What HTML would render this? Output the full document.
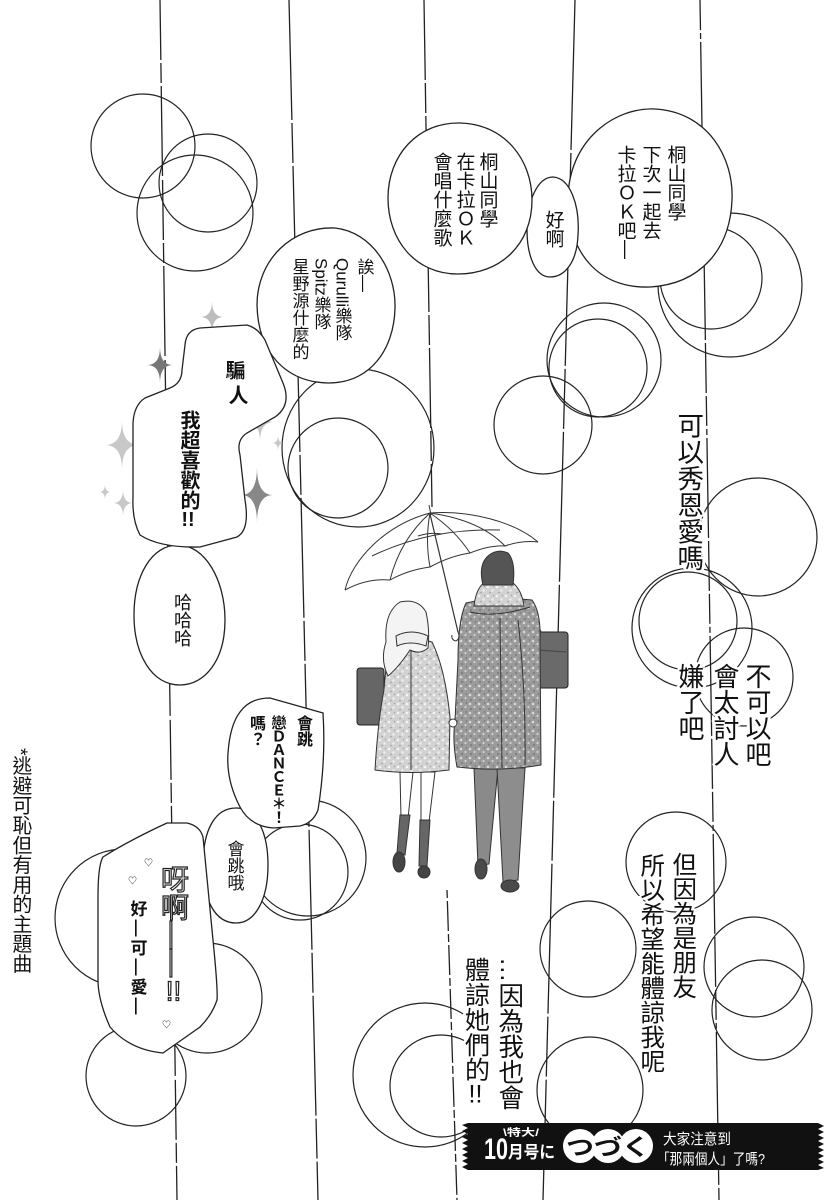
<!DOCTYPE html>
<html><head><meta charset="utf-8">
<style>
html,body{margin:0;padding:0;background:#fff;}
#pg{position:relative;width:836px;height:1200px;overflow:hidden;background:#fff;}
svg{position:absolute;left:0;top:0;}
.c{position:absolute;writing-mode:vertical-rl;line-height:1;white-space:nowrap;font-family:"Liberation Sans","Noto Sans CJK TC",sans-serif;color:#111;}
.b{font-weight:bold;}
.h{text-shadow:0 0 2px #fff,2px 0 0 #fff,-2px 0 0 #fff,0 2px 0 #fff,0 -2px 0 #fff,2px 2px 0 #fff,-2px -2px 0 #fff,2px -2px 0 #fff,-2px 2px 0 #fff,3px 0 0 #fff,-3px 0 0 #fff;}
.tc{text-combine-upright:all;}
</style></head><body><div id="pg">
<svg width="836" height="1200" viewBox="0 0 836 1200" xmlns="http://www.w3.org/2000/svg">
<defs>
<pattern id="p1" width="9" height="9" patternUnits="userSpaceOnUse">
<rect width="9" height="9" fill="#9b9b9b"/>
<circle cx="2" cy="2" r="1.3" fill="#d8d8d8"/>
<circle cx="6.5" cy="5" r="1.1" fill="#d0d0d0"/>
<circle cx="3" cy="7" r="0.9" fill="#6e6e6e"/>
<circle cx="7.5" cy="1" r="0.7" fill="#707070"/>
</pattern>
<pattern id="p2" width="9" height="9" patternUnits="userSpaceOnUse">
<rect width="9" height="9" fill="#d2d2d2"/>
<circle cx="2" cy="2" r="1.3" fill="#f4f4f4"/>
<circle cx="6.5" cy="5.5" r="1.2" fill="#f0f0f0"/>
<circle cx="4" cy="7.5" r="0.8" fill="#9a9a9a"/>
<circle cx="7.5" cy="1.5" r="0.7" fill="#a0a0a0"/>
</pattern>
<clipPath id="cl1"><rect x="0" y="900" width="467" height="300"/></clipPath>
</defs>

<!-- rain lines -->
<g stroke="#222" stroke-width="1.3" fill="none">
<line x1="160" y1="0" x2="177" y2="1200" stroke-dasharray="60 3 20 3 90 4"/>
<line x1="289" y1="0" x2="318" y2="1200" stroke-dasharray="120 3 40 3"/>
<line x1="424" y1="0" x2="432" y2="507" stroke-dasharray="80 3 30 3"/>
<line x1="447" y1="890" x2="457" y2="1200" stroke-dasharray="8 3 30 3"/>
<line x1="575" y1="0" x2="543" y2="1200" stroke-dasharray="150 3 60 3"/>
<line x1="700" y1="0" x2="719" y2="1200" stroke-dasharray="30 3 6 3 100 3 50 3"/>
</g>

<!-- circles -->
<g stroke="#222" stroke-width="1.2" fill="none">
<circle cx="143" cy="146" r="52"/>
<circle cx="208" cy="183" r="49"/>
<circle cx="195" cy="213" r="58"/>
<circle cx="730" cy="285" r="72"/>
<circle cx="711" cy="278" r="51"/>
<circle cx="604" cy="360" r="57"/>
<circle cx="598" cy="368" r="49"/>
<circle cx="543" cy="425" r="49"/>
<ellipse cx="358" cy="448" rx="76" ry="79"/>
<circle cx="338" cy="468" r="50"/>
<circle cx="758" cy="537" r="59"/>
<circle cx="692" cy="628" r="60"/>
<circle cx="688" cy="621" r="49"/>
<circle cx="744" cy="677" r="49"/>
<circle cx="676" cy="862" r="50"/>
<circle cx="588" cy="949" r="48"/>
<circle cx="590" cy="1090" r="53"/>
<circle cx="754" cy="967" r="50"/>
<circle cx="762" cy="1010" r="50"/>
<g clip-path="url(#cl1)">
<circle cx="425" cy="1075" r="72"/>
<circle cx="441" cy="1086" r="51"/>
</g>
<circle cx="124" cy="918" r="69"/>
<circle cx="207" cy="998" r="55"/>
<circle cx="136" cy="1076" r="50"/>
<circle cx="308" cy="858" r="58"/>
<circle cx="300" cy="872" r="48"/>
</g>

<!-- sparkles -->
<g>
<path d="M212,301 Q212,317 224,317 Q212,317 212,333 Q212,317 200,317 Q212,317 212,301Z" fill="#bdbdbd"/>
<path d="M160,347 Q160,365 173,365 Q160,365 160,383 Q160,365 147,365 Q160,365 160,347Z" fill="#777"/>
<path d="M122,420 Q122,445 139,445 Q122,445 122,470 Q122,445 105,445 Q122,445 122,420Z" fill="#c8c8c8"/>
<path d="M105,484 Q105,492 111,492 Q105,492 105,500 Q105,492 99,492 Q105,492 105,484Z" fill="#c8c8c8"/>
<path d="M123,489 Q123,503 133,503 Q123,503 123,517 Q123,503 113,503 Q123,503 123,489Z" fill="#c8c8c8"/>
<path d="M260,402 Q260,422 274,422 Q260,422 260,442 Q260,422 246,422 Q260,422 260,402Z" fill="#c8c8c8"/>
<path d="M278,435 Q278,443 284,443 Q278,443 278,451 Q278,443 272,443 Q278,443 278,435Z" fill="#c8c8c8"/>
<path d="M257,467 Q257,495 273,495 Q257,495 257,523 Q257,495 241,495 Q257,495 257,467Z" fill="#888"/>
</g>

<!-- bubbles -->
<g fill="#fff" stroke="#222" stroke-width="1.3">
<path d="M568,200 C568,140 615,107 655,109 C708,112 734,158 732,200 C730,250 700,284 650,287 C598,289 568,252 568,200Z"/>
<path d="M553,177 C570,178 580,205 578,235 C577,262 565,277 550,277 C535,277 527,255 527,230 C527,200 538,177 553,177Z"/>
<path d="M460,123 C505,124 532,160 532,200 C532,245 500,274 458,274 C415,274 388,240 388,198 C388,155 418,122 460,123Z"/>
<path d="M335,228 C372,232 396,270 395,308 C394,350 370,383 328,383 C285,382 258,352 257,305 C257,260 292,226 335,228Z"/>
<path d="M178,545 C205,545 225,580 225,620 C225,660 205,685 180,685 C152,685 134,655 134,615 C134,575 152,545 178,545Z"/>
<path d="M185,345 Q186,330 200,328 L247,325 Q258,328 265,340 L283,383 Q292,405 275,417 L247,433 Q236,440 240,455 L245,500 Q250,530 237,537 L200,547 Q160,548 140,535 Q132,520 133,497 L133,423 Q134,405 145,398 L170,388 Q182,383 182,370Z"/>
<path d="M236,808 C258,808 268,835 268,865 C268,900 255,923 236,923 C215,923 203,900 203,865 C203,830 215,808 236,808Z"/>
<path d="M240,712 Q250,698 270,698 L323,713 Q326,760 318,810 Q313,823 300,826 L273,828 Q250,826 240,807 Q226,780 228,753 Q230,725 240,712Z"/>
<path d="M103,857 Q130,840 167,823 L187,823 Q200,826 203,837 L213,940 Q218,990 217,1000 Q212,1015 200,1027 L163,1053 Q130,1050 110,1027 Q98,1000 98,980 L98,897 Q98,865 103,857Z"/>
</g>

<!-- figures -->
<g stroke="#333" stroke-width="1">
<!-- guy bag -->
<line x1="528" y1="603" x2="541" y2="633" stroke="#333" stroke-width="2"/>
<rect x="535" y="632" width="33" height="56" rx="3" fill="#6a6a6a" stroke="#222"/>
<line x1="537" y1="650" x2="566" y2="652" stroke="#444"/>
<!-- guy pants -->
<path d="M474,768 L498,768 L489,864 L478,866Z" fill="#8a8a8a"/>
<path d="M497,768 L525,768 L518,880 L503,882Z" fill="#8d8d8d"/>
<ellipse cx="481" cy="869" rx="6" ry="10" fill="#4a4a4a"/>
<ellipse cx="510" cy="886" rx="9" ry="6" fill="#4a4a4a"/>
<!-- guy coat -->
<path d="M466,603 Q496,596 532,600 Q541,612 540,640 L541,765 Q500,772 457,767 Q452,740 455,720 L458,660 Q458,620 466,603Z" fill="url(#p1)"/>
<path d="M500,618 L502,768 M470,612 Q495,618 530,607 M518,620 Q526,690 525,765" fill="none"/>
<path d="M474,606 Q476,588 485,582 L512,582 Q522,590 524,606Z" fill="url(#p2)"/>
<path d="M483,585 Q478,565 488,556 Q497,548 508,553 Q516,562 513,585Z" fill="#555"/>
<!-- girl bag -->
<rect x="357" y="668" width="27" height="57" rx="3" fill="#666" stroke="#222"/>
<!-- girl legs -->
<path d="M400,772 L413,772 L408,818 L401,818Z" fill="#fff"/>
<path d="M421,772 L435,772 L429,822 L421,822Z" fill="#fff"/>
<path d="M400,815 L410,815 L405,855 L397,853Z" fill="#666"/>
<path d="M420,820 L430,820 L427,866 L419,866Z" fill="#666"/>
<ellipse cx="399" cy="862" rx="6" ry="10" fill="#444"/>
<ellipse cx="424" cy="872" rx="6" ry="6" fill="#444"/>
<!-- girl coat -->
<path d="M392,640 Q412,636 432,642 Q445,668 450,717 L449,770 Q410,775 375,770 Q378,720 384,690 Q386,660 392,640Z" fill="url(#p2)"/>
<path d="M411,650 L411,770" fill="none"/>
<path d="M386,642 Q384,612 400,602 Q418,598 426,612 Q430,630 428,648 Q420,655 410,650 Q398,668 388,676 Q380,660 386,642Z" fill="#f4f4f4"/>
<path d="M396,636 Q411,628 428,636 L426,646 Q410,640 397,646Z" fill="#eee"/>
<circle cx="453" cy="723" r="4" fill="#fff"/>
<!-- umbrella -->
<g fill="none" stroke="#333" stroke-width="1">
<path d="M345,590 C352,560 385,525 430,513 C470,510 515,522 538,542"/>
<path d="M345,590 Q367,578 390,580 Q408,570 430,567 Q450,556 470,553 Q490,545 505,546 Q522,540 538,542"/>
<path d="M430,513 Q400,540 390,580"/>
<path d="M430,513 Q425,540 430,567"/>
<path d="M430,513 Q455,530 470,553"/>
<path d="M430,513 Q480,520 505,546"/>
<path d="M372,556 Q430,528 500,530"/>
<path d="M418,536 Q430,532 442,534"/>
<path d="M429,505 L431,515"/>
<path d="M430,514 L458,632" stroke-width="1.2"/>
<path d="M458,632 q3,6 -2,9 q-5,-1 -4,-6"/>
</g>
</g>

<!-- banner -->
<path d="M468,1123 L818,1123 L824,1126 L818,1129 L824,1132 L818,1135 L824,1138 L818,1141 L824,1144 L818,1147 L824,1150 L818,1153 L824,1156 L818,1159 L824,1162 L818,1165 L824,1168 L818,1170 L468,1170 L462,1167 L468,1164 L462,1161 L468,1158 L462,1155 L468,1152 L462,1149 L468,1146 L462,1143 L468,1140 L462,1137 L468,1134 L462,1131 L468,1128 L462,1125Z" fill="#111"/>
<g font-family="Liberation Sans, Noto Sans CJK JP, sans-serif" font-weight="bold">
<text x="484" y="1159" font-size="30" fill="#fff" textLength="24" lengthAdjust="spacingAndGlyphs">10</text>
<text x="508" y="1158" font-size="17" fill="#fff" textLength="47" lengthAdjust="spacingAndGlyphs">月号に</text>
<text x="503" y="1136" font-size="10" fill="#fff" textLength="36" lengthAdjust="spacingAndGlyphs">\特大/</text>
</g>
<g fill="#fff">
<circle cx="580" cy="1146" r="17"/>
<circle cx="608" cy="1146" r="17"/>
<circle cx="636" cy="1146" r="17"/>
</g>
<text x="566" y="1155" font-size="23" font-weight="bold" fill="#111" font-family="Noto Sans CJK JP, sans-serif" textLength="84" lengthAdjust="spacingAndGlyphs">つづく</text>
<text x="663" y="1144" font-size="15" fill="#fff" font-family="Liberation Sans, Noto Sans CJK TC, sans-serif" textLength="68" lengthAdjust="spacingAndGlyphs">大家注意到</text>
<text x="657" y="1164" font-size="15" fill="#fff" font-family="Liberation Sans, Noto Sans CJK TC, sans-serif" textLength="108" lengthAdjust="spacingAndGlyphs">「那兩個人」了嗎?</text>
</svg>

<!-- bubble 1 -->
<div class="c" style="left:665.5px;top:145px;font-size:19px;">桐山同學</div>
<div class="c" style="left:640.5px;top:145px;font-size:19px;">下次一起去</div>
<div class="c" style="left:615.5px;top:145px;font-size:19px;">卡拉ＯＫ吧—</div>
<!-- 好啊 -->
<div class="c" style="left:543.5px;top:210px;font-size:19px;">好啊</div>
<!-- bubble 3 -->
<div class="c" style="left:477.5px;top:152px;font-size:19px;">桐山同學</div>
<div class="c" style="left:454.5px;top:152px;font-size:19px;">在卡拉ＯＫ</div>
<div class="c" style="left:431.5px;top:152px;font-size:19px;">會唱什麼歌</div>
<!-- bubble 4 -->
<div class="c" style="left:355.5px;top:258px;font-size:17px;">誒—</div>
<div class="c" style="left:333.5px;top:258px;font-size:17px;">Qurulli樂隊</div>
<div class="c" style="left:312.5px;top:258px;font-size:17px;">Spitz樂隊</div>
<div class="c" style="left:290.5px;top:258px;font-size:17px;">星野源什麼的</div>
<!-- 騙人 -->
<div class="c b" style="left:223px;top:360px;font-size:20px;">騙</div>
<div class="c b" style="left:226px;top:385px;font-size:20px;">人</div>
<div class="c b" style="left:178px;top:410px;font-size:20px;">我超喜歡的<span class="tc">!!</span></div>
<!-- 哈哈哈 -->
<div class="c" style="left:173px;top:593px;font-size:18px;">哈哈哈</div>
<!-- DANCE -->
<div class="c b" style="left:294px;top:715px;font-size:16px;">會跳</div>
<div class="c b" style="left:270.5px;top:715px;font-size:15px;letter-spacing:-1.5px;">戀ＤＡＮＣＥ＊！</div>
<div class="c b" style="left:247px;top:715px;font-size:16px;">嗎？</div>
<!-- 會跳哦 -->
<div class="c" style="left:225.5px;top:840px;font-size:17px;">會跳哦</div>
<!-- 呀啊 -->
<div class="c" style="left:159px;top:865px;font-size:28px;color:#fff;-webkit-text-stroke:1.2px #222;">呀啊——<span class="tc">!!</span></div>
<div class="c b" style="left:128.5px;top:900px;font-size:17px;letter-spacing:2.5px;">好—可—愛—</div>
<div class="c" style="left:143px;top:858px;font-size:9px;">♡</div>
<div class="c" style="left:127px;top:876px;font-size:9px;">♡</div>
<div class="c" style="left:161px;top:1020px;font-size:9px;">♡</div>
<!-- narration -->
<div class="c h" style="left:674.75px;top:412px;font-size:26.5px;">可以秀恩愛嗎</div>
<div class="c h" style="left:744px;top:663px;font-size:26px;">不可以吧</div>
<div class="c h" style="left:712px;top:663px;font-size:26px;">會太討人</div>
<div class="c h" style="left:677px;top:663px;font-size:26px;">嫌了吧</div>
<div class="c h" style="left:669.75px;top:852px;font-size:24.5px;">但因為是朋友</div>
<div class="c h" style="left:637.75px;top:853px;font-size:24.5px;">所以希望能體諒我呢</div>
<div class="c h" style="left:495.25px;top:957px;font-size:25.5px;">…因為我也會</div>
<div class="c h" style="left:462.5px;top:957px;font-size:25px;">體諒她們的<span class="tc">!!</span></div>
<!-- side note -->
<div class="c" style="left:9.1px;top:748px;font-size:19.8px;">*逃避可恥但有用的主題曲</div>
</div></body></html>
